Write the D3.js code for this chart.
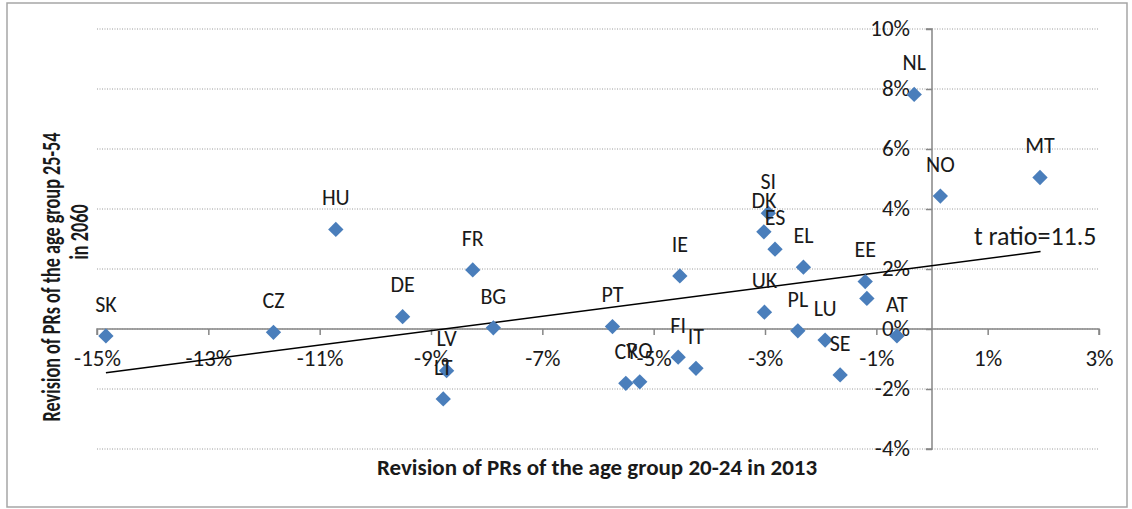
<!DOCTYPE html>
<html>
<head>
<meta charset="utf-8">
<script src="https://cdn.jsdelivr.net/npm/d3@7"></script>
<style>
    body { margin: 0; background: #fff; }
    #chart { width: 1132px; height: 509px; }
    text { font-family: Carlito, Lato, "Liberation Sans", sans-serif; fill: #1a1a1a; }
</style>
</head>
<body>
<div id="chart"></div>
<script>
// country codes (empty = point drawn without label)
const countries = ["SK", "CZ", "HU", "DE", "FR", "LV", "LT", "BG", "PT", "CY", "RO", "IE", "FI", "IT",
    "DK", "SI", "ES", "EL", "UK", "PL", "LU", "SE", "EE", "", "AT", "NL", "NO", "MT"];
// revision of PRs 20-24 in 2013 (%)
const revision2024 = [-14.84, -11.83, -10.71, -9.51, -8.25, -8.72, -8.78, -7.88, -5.74, -5.50, -5.25, -4.53, -4.56, -4.24,
    -3.02, -2.94, -2.82, -2.31, -3.01, -2.41, -1.92, -1.65, -1.20, -1.17, -0.63, -0.32, 0.15, 1.94];
// revision of PRs 25-54 in 2060 (%)
const revision2554 = [-0.23, -0.11, 3.32, 0.41, 1.97, -1.39, -2.33, 0.04, 0.08, -1.81, -1.76, 1.77, -0.94, -1.31,
    3.24, 3.86, 2.66, 2.06, 0.56, -0.06, -0.37, -1.53, 1.58, 1.02, -0.23, 7.82, 4.43, 5.05];

const xTicks = [-15, -13, -11, -9, -7, -5, -3, -1, 1, 3];
const yTicks = [-4, -2, 0, 2, 4, 6, 8, 10];

// fitted line
const trendX = [-14.84, 1.95];
const trendY = [-1.46, 2.58];
const trendLabel = "t ratio=11.5";

const xTitle = "Revision of PRs of the age group 20-24 in 2013";
const yTitle = ["Revision of PRs of the age group 25-54", "in 2060"];

const data = countries.map((c, i) => ({name: c, x: revision2024[i], y: revision2554[i]}));

const width = 1132, height = 509;
const svg = d3.select("#chart").append("svg")
    .attr("width", width)
    .attr("height", height);

// chart frame
svg.append("rect")
    .attr("x", 7).attr("y", 3)
    .attr("width", 1120).attr("height", 504)
    .attr("fill", "#fff")
    .attr("stroke", "#a6a6a6")
    .attr("stroke-width", 1.5);

const x = d3.scaleLinear().domain([-15, 3]).range([97, 1099]);
const y = d3.scaleLinear().domain([-4, 10]).range([449, 29]);

// gridlines
svg.append("g")
    .selectAll("line")
    .data(yTicks)
    .enter()
    .append("line")
    .attr("x1", x(-15)).attr("x2", x(3))
    .attr("y1", d => y(d)).attr("y2", d => y(d))
    .attr("stroke", "#9a9a9a")
    .attr("stroke-width", 1)
    .attr("stroke-dasharray", "1,1.5");

// x axis through y = 0
const xAxis = d3.axisBottom(x)
    .tickValues(xTicks)
    .tickSize(6)
    .tickFormat(d => d + "%");

const gx = svg.append("g")
    .attr("transform", "translate(0," + y(0) + ")")
    .call(xAxis);
gx.select(".domain").attr("stroke", "#868686").attr("stroke-width", 1.5)
    .attr("d", "M" + x(-15) + ",6V0H" + x(3) + "V6");
gx.selectAll(".tick line").attr("stroke", "#868686").attr("stroke-width", 1.5);
gx.selectAll(".tick text")
    .attr("y", 37)
    .attr("dy", null)
    .style("font-size", "23px");

// y axis through x = 0
const yAxis = d3.axisLeft(y)
    .tickValues(yTicks)
    .tickSize(6)
    .tickFormat(d => d + "%");

const gy = svg.append("g")
    .attr("transform", "translate(" + x(0) + ",0)")
    .call(yAxis);
gy.select(".domain").attr("stroke", "#868686").attr("stroke-width", 1.5)
    .attr("d", "M-6," + y(10) + "H0V" + y(-4) + "H-6");
gy.selectAll(".tick line").attr("stroke", "#868686").attr("stroke-width", 1.5);
gy.selectAll(".tick text")
    .attr("x", -22)
    .attr("dy", "0.28em")
    .style("font-size", "23px");

svg.selectAll("g").attr("font-family", null).attr("font-size", null);

// trend line
const trend = trendX.map((v, i) => [v, trendY[i]]);
svg.append("path")
    .datum(trend)
    .attr("fill", "none")
    .attr("stroke", "#000")
    .attr("stroke-width", 1.5)
    .attr("d", d3.line().x(d => x(d[0])).y(d => y(d[1])));

// points
const diamond = d3.symbol().type(d3.symbolDiamond2).size(150);
svg.selectAll(".dot")
    .data(data)
    .enter()
    .append("path")
    .attr("class", "dot")
    .attr("transform", d => "translate(" + x(d.x) + "," + y(d.y) + ")")
    .attr("d", diamond)
    .attr("fill", "#4a7ebb");

// labels
svg.selectAll(".label")
    .data(data.filter(d => d.name))
    .enter()
    .append("text")
    .attr("class", "label")
    .attr("x", d => x(d.x))
    .attr("y", d => y(d.y) - 32)
    .attr("dy", "0.35em")
    .attr("text-anchor", "middle")
    .style("font-size", "22px")
    .text(d => d.name);

svg.append("text")
    .attr("x", x(trendX[1]) + 56)
    .attr("y", y(trendY[1]) - 7)
    .attr("text-anchor", "end")
    .style("font-size", "26px")
    .text(trendLabel);

// axis titles
svg.append("text")
    .attr("x", 597)
    .attr("y", 475)
    .attr("text-anchor", "middle")
    .style("font-size", "23px")
    .style("font-weight", "bold")
    .text(xTitle);

// y title is squeezed along its length in the original
const yTitlePos = [[60, 277], [88, 232]];
svg.selectAll(".ytitle")
    .data(yTitle)
    .enter()
    .append("text")
    .attr("class", "ytitle")
    .attr("transform", (d, i) => "translate(" + yTitlePos[i][0] + "," + yTitlePos[i][1] + ") rotate(-90) scale(0.7,1)")
    .attr("text-anchor", "middle")
    .style("font-size", "26px")
    .style("font-weight", "bold")
    .text(d => d);
</script>
</body>
</html>
